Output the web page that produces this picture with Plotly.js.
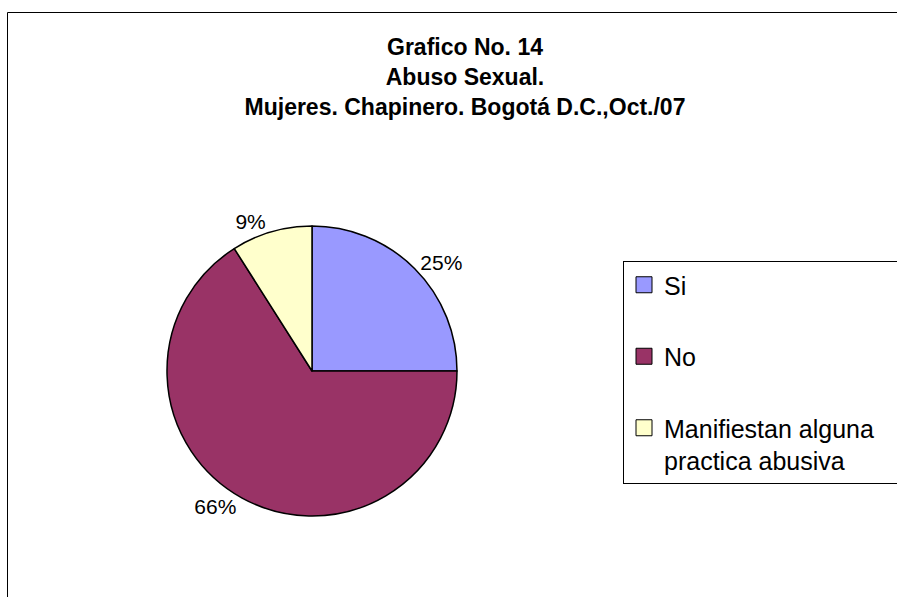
<!DOCTYPE html>
<html>
<head>
<meta charset="utf-8">
<script src="https://cdn.plot.ly/plotly-3.0.1.min.js"></script>
<style>
html,body{margin:0;padding:0;background:#fff;}
#chart{width:897px;height:597px;}
</style>
</head>
<body>
<div id="chart"></div>
<script>
// Data
var categories = ["Si", "No", "Manifiestan alguna<br>practica abusiva"];
var values = [25, 66, 9];
var colors = ["#9999FF", "#993366", "#FFFFCC"];
var titleLines = ["Grafico No. 14", "Abuso Sexual.", "Mujeres. Chapinero. Bogotá D.C.,Oct./07"];

var W = 897, H = 597;
var FONT = "Liberation Sans, Arial, sans-serif";

var pie = {
  type: "pie",
  labels: categories,
  values: values,
  sort: false,
  direction: "clockwise",
  rotation: 0,
  marker: {colors: colors, line: {color: "#000000", width: 1.5}},
  textinfo: "percent",
  texttemplate: "%{percent:.0%}",
  textposition: "outside",
  outsidetextfont: {family: FONT, size: 21, color: "#000000"},
  showlegend: false,
  hoverinfo: "label+percent",
  domain: {x: [167 / W, 457 / W], y: [1 - 516 / H, 1 - 226 / H]}
};

// legend entries (the frame of the original legend runs past the right edge of the chart,
// so the first line of each entry is padded with non-breaking spaces)
var legendTraces = categories.map(function (c, i) {
  var parts = c.split("<br>");
  parts[0] = parts[0] + "\u00a0\u00a0\u00a0\u00a0";
  return {
    type: "scatter",
    mode: "markers",
    x: [null], y: [null],
    name: parts.join("<br>"),
    legendgroup: "g" + i,
    marker: {symbol: "square", size: 16, color: colors[i], line: {color: "#000000", width: 1}},
    showlegend: true,
    hoverinfo: "skip"
  };
});

var layout = {
  width: W, height: H,
  margin: {l: 0, r: 0, t: 0, b: 0, autoexpand: false},
  paper_bgcolor: "#ffffff",
  plot_bgcolor: "rgba(0,0,0,0)",
  font: {family: FONT, color: "#000000"},
  title: {
    text: "<b>" + titleLines.join("<br>") + "</b>",
    font: {family: FONT, size: 23, color: "#000000"},
    x: 465 / W, xanchor: "center", xref: "paper",
    y: 1 - 55 / H, yanchor: "top", yref: "paper"
  },
  xaxis: {visible: false, domain: [0, 1]},
  yaxis: {visible: false, domain: [0, 1]},
  showlegend: true,
  legend: {
    x: 623 / W, xanchor: "left",
    y: 1 - 261 / H, yanchor: "top",
    bordercolor: "#000000", borderwidth: 1,
    bgcolor: "#ffffff",
    font: {family: FONT, size: 25, color: "#000000"},
    traceorder: "grouped",
    tracegroupgap: 36,
    valign: "top"
  },
  shapes: [{
    type: "rect", xref: "paper", yref: "paper",
    x0: 7.5 / W, x1: 1.2, y0: -0.2, y1: 1 - 12.5 / H,
    line: {color: "#000000", width: 1}, fillcolor: "rgba(0,0,0,0)", layer: "below"
  }]
};

Plotly.newPlot("chart", legendTraces.concat([pie]), layout, {displayModeBar: false, staticPlot: true});
</script>
</body>
</html>
